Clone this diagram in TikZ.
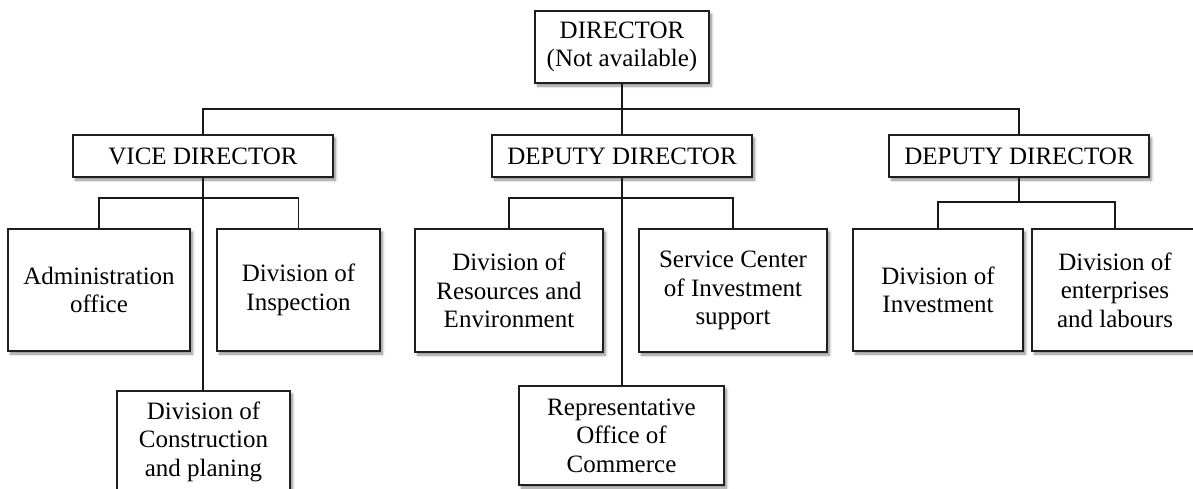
\documentclass[tikz,border=0pt]{standalone}
\usepackage{fontspec}
\setmainfont{Liberation Serif}
\usetikzlibrary{shadows.blur}
\tikzset{
  box/.style={draw=black!88, line width=1.4pt, fill=white, align=center, inner sep=0pt,
    font=\fontsize{25}{28.5}\selectfont,
    blur shadow={shadow xshift=2.5pt, shadow yshift=-3pt, shadow blur steps=6, shadow blur radius=2.5pt, shadow opacity=45}},
  conn/.style={draw=black!90, line width=1.3pt}
}
\begin{document}
\begin{tikzpicture}[x=1pt,y=-1pt]
\useasboundingbox (0,0) rectangle (1193,488);
\clip (0,0) rectangle (1193,488);
% top level
\node[box, minimum width=174pt, minimum height=72pt] (dir) at (622,47) {DIRECTOR\\(Not available)};
% second level
\node[box, minimum width=260pt, minimum height=42pt] (vice) at (203,156) {VICE DIRECTOR};
\node[box, minimum width=260pt, minimum height=42pt] (dep1) at (622,156) {DEPUTY DIRECTOR};
\node[box, minimum width=260pt, minimum height=42pt] (dep2) at (1019,156) {DEPUTY DIRECTOR};
% third level
\node[box, minimum width=182pt, minimum height=122pt] (admin) at (99,290) {Administration\\office};
\node[box, minimum width=163pt, minimum height=122pt] (insp) at (298.5,290) {Division of\\Inspection};
\node[box, minimum width=173pt, minimum height=101pt] (cons) at (203.5,441.5) {Division of\\Construction\\and planing};
\node[box, minimum width=188pt, minimum height=123pt] (res) at (509,290.5) {Division of\\Resources and\\Environment};
\node[box, minimum width=188pt, minimum height=123pt] (serv) at (733,290.5) {Service Center\\of Investment\\support};
\node[box, minimum width=205pt, minimum height=99pt] (rep) at (621.5,435.5) {Representative\\Office of\\Commerce};
\node[box, minimum width=170pt, minimum height=122pt] (inv) at (938,290) {Division of\\Investment};
\node[box, minimum width=166pt, minimum height=122pt] (ent) at (1115,290) {Division of\\enterprises\\and labours};
% bus coordinates
\coordinate (bus) at (0,109);
\coordinate (vb) at (0,198);
\coordinate (db1) at (0,198);
\coordinate (db2) at (0,202);
% connectors
\draw[conn] (dir.south) -- (dep1.north);
\draw[conn] (vice.north) -- (vice.north |- bus) -- (dep2.north |- bus) -- (dep2.north);
\draw[conn] (vice.south) -- (vice.south |- cons.north);
\draw[conn] (admin.north) -- (admin.north |- vb) -- (insp.north |- vb) -- (insp.north);
\draw[conn] (dep1.south) -- (dep1.south |- rep.north);
\draw[conn] (res.north) -- (res.north |- db1) -- (serv.north |- db1) -- (serv.north);
\draw[conn] (dep2.south) -- (dep2.south |- db2);
\draw[conn] (inv.north) -- (inv.north |- db2) -- (ent.north |- db2) -- (ent.north);
\end{tikzpicture}
\end{document}
